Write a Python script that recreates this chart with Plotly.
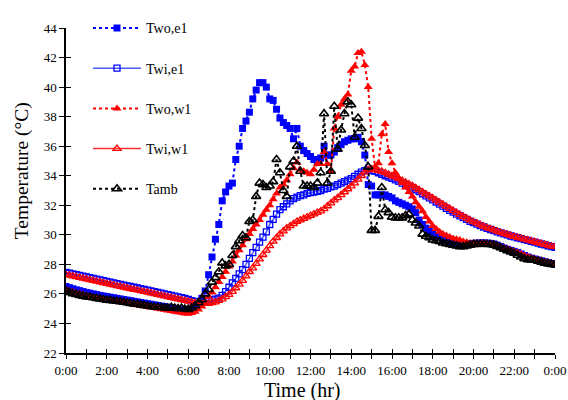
import plotly.graph_objects as go

# time axis: samples every 10 minutes over 24 h
minutes = list(range(0, 24 * 60 + 1, 10))
hours = [m / 60 for m in minutes]

x_tick_values = list(range(0, 25))
x_tick_labels = ["0:00", "", "2:00", "", "4:00", "", "6:00", "", "8:00", "", "10:00", "",
                 "12:00", "", "14:00", "", "16:00", "", "18:00", "", "20:00", "", "22:00", "", "0:00"]
y_tick_values = list(range(22, 45, 2))
x_title = "Time (hr)"
y_title = "Temperature (°C)"

two_e1 = [
    26.50, 26.42, 26.35, 26.28, 26.22, 26.16,
    26.10, 26.05, 26.00, 25.95, 25.90, 25.86,
    25.82, 25.78, 25.74, 25.70, 25.66, 25.62,
    25.58, 25.54, 25.50, 25.46, 25.42, 25.38,
    25.34, 25.30, 25.26, 25.22, 25.18, 25.14,
    25.10, 25.06, 25.02, 24.98, 24.94, 24.90,
    24.88, 24.95, 25.10, 25.35, 25.70, 26.20,
    27.30, 28.50, 29.70, 30.70, 32.30, 32.90,
    33.30, 33.50, 35.10, 36.00, 37.20, 37.70,
    38.30, 39.20, 39.80, 40.30, 40.30, 40.00,
    39.20, 39.10, 38.50, 37.90, 37.60, 37.40,
    37.20, 36.50, 37.20, 36.00, 35.70, 35.50,
    35.30, 35.10, 35.00, 35.20, 36.00, 35.40,
    35.40, 35.60, 35.90, 36.10, 36.30, 36.40,
    36.50, 36.50, 36.60, 36.30, 35.40, 33.40,
    33.30, 32.70, 32.70, 32.70, 32.70, 32.60,
    32.50, 32.30, 32.20, 32.10, 32.00, 31.90,
    31.75, 31.50, 31.00, 30.70, 30.45, 30.25,
    30.05, 29.90, 29.80, 29.70, 29.60, 29.50,
    29.45, 29.40, 29.35, 29.35, 29.38, 29.40,
    29.42, 29.44, 29.45, 29.45, 29.44, 29.42,
    29.38, 29.30, 29.20, 29.10, 29.02, 28.95,
    28.88, 28.80, 28.70, 28.60, 28.50, 28.42,
    28.36, 28.30, 28.24, 28.18, 28.12, 28.06,
    28.00,
]

twi_e1 = [
    27.45, 27.40, 27.35, 27.30, 27.25, 27.20,
    27.15, 27.10, 27.05, 27.00, 26.95, 26.90,
    26.85, 26.80, 26.75, 26.70, 26.65, 26.60,
    26.55, 26.50, 26.45, 26.40, 26.35, 26.30,
    26.25, 26.20, 26.15, 26.10, 26.05, 26.00,
    25.95, 25.90, 25.85, 25.80, 25.75, 25.70,
    25.62, 25.55, 25.50, 25.48, 25.48, 25.50,
    25.55, 25.60, 25.65, 25.72, 25.90, 26.15,
    26.45, 26.75, 27.05, 27.35, 27.65, 28.00,
    28.40, 28.80, 29.15, 29.50, 29.85, 30.20,
    30.70, 31.05, 31.40, 31.70, 31.90, 32.10,
    32.30, 32.45, 32.55, 32.65, 32.70, 32.80,
    32.85, 32.90, 32.95, 33.00, 33.10, 33.15,
    33.25, 33.30, 33.40, 33.50, 33.60, 33.70,
    33.80, 33.95, 34.10, 34.25, 34.35, 34.40,
    34.35, 34.30, 34.20, 34.10, 34.00, 33.90,
    33.82, 33.72, 33.62, 33.50, 33.40, 33.30,
    33.18, 33.05, 32.92, 32.78, 32.64, 32.50,
    32.36, 32.22, 32.08, 31.94, 31.80, 31.66,
    31.53, 31.40, 31.28, 31.16, 31.04, 30.92,
    30.82, 30.72, 30.62, 30.53, 30.44, 30.36,
    30.28, 30.20, 30.13, 30.06, 29.99, 29.92,
    29.86, 29.80, 29.74, 29.68, 29.62, 29.56,
    29.50, 29.44, 29.38, 29.32, 29.26, 29.20,
    29.15,
]

two_w1 = [
    26.30, 26.22, 26.15, 26.08, 26.02, 25.96,
    25.90, 25.85, 25.80, 25.75, 25.70, 25.65,
    25.60, 25.56, 25.52, 25.48, 25.44, 25.40,
    25.36, 25.32, 25.28, 25.24, 25.20, 25.16,
    25.12, 25.08, 25.04, 25.00, 24.96, 24.92,
    24.88, 24.84, 24.80, 24.76, 24.72, 24.68,
    24.66, 24.70, 24.80, 24.95, 25.15, 25.45,
    25.80, 26.10, 26.45, 26.80, 27.15, 27.50,
    27.85, 28.20, 28.60, 28.95, 29.30, 29.70,
    30.05, 30.40, 30.70, 31.00, 31.35, 31.70,
    32.00, 32.40, 32.80, 33.20, 33.40, 33.70,
    34.10, 34.50, 34.90, 34.40, 34.30, 34.20,
    34.10, 34.40, 34.80, 34.80, 35.60, 34.80,
    34.30, 37.20, 38.00, 38.80, 39.20, 39.50,
    41.10, 41.40, 42.30, 42.40, 41.50, 40.00,
    36.50, 34.60, 34.85, 36.80, 37.50, 35.60,
    34.85, 34.20, 33.80, 33.50, 33.20, 32.90,
    32.60, 32.20, 31.90, 31.60, 31.20, 30.90,
    30.60, 30.40, 30.20, 30.05, 29.95, 29.85,
    29.75, 29.70, 29.65, 29.55, 29.50, 29.45,
    29.45, 29.45, 29.45, 29.44, 29.43, 29.42,
    29.38, 29.30, 29.20, 29.12, 29.04, 28.96,
    28.88, 28.80, 28.70, 28.60, 28.52, 28.44,
    28.38, 28.32, 28.26, 28.20, 28.14, 28.08,
    28.02,
]

twi_w1 = [
    27.30, 27.25, 27.20, 27.15, 27.10, 27.05,
    27.00, 26.95, 26.90, 26.85, 26.80, 26.75,
    26.70, 26.65, 26.60, 26.55, 26.50, 26.45,
    26.40, 26.35, 26.30, 26.25, 26.20, 26.15,
    26.10, 26.05, 26.00, 25.95, 25.90, 25.85,
    25.80, 25.75, 25.70, 25.65, 25.60, 25.55,
    25.50, 25.45, 25.40, 25.37, 25.35, 25.35,
    25.35, 25.40, 25.45, 25.55, 25.65, 25.80,
    25.95, 26.15, 26.40, 26.65, 26.90, 27.20,
    27.50, 27.75, 28.05, 28.35, 28.65, 28.95,
    29.25, 29.55, 29.80, 30.05, 30.25, 30.45,
    30.60, 30.75, 30.90, 31.00, 31.10, 31.20,
    31.30, 31.40, 31.50, 31.60, 31.75, 31.95,
    32.15, 32.35, 32.50, 32.70, 32.90, 33.10,
    33.30, 33.50, 33.75, 34.00, 34.25, 34.40,
    34.45, 34.40, 34.35, 34.30, 34.20, 34.10,
    34.00, 33.90, 33.80, 33.68, 33.56, 33.44,
    33.32, 33.18, 33.04, 32.90, 32.76, 32.62,
    32.48, 32.34, 32.20, 32.06, 31.92, 31.78,
    31.64, 31.50, 31.37, 31.24, 31.11, 30.99,
    30.88, 30.77, 30.67, 30.57, 30.48, 30.40,
    30.32, 30.24, 30.16, 30.09, 30.02, 29.95,
    29.88, 29.82, 29.76, 29.70, 29.64, 29.58,
    29.52, 29.46, 29.40, 29.34, 29.28, 29.22,
    29.18,
]

tamb = [
    26.20, 26.10, 26.02, 25.96, 25.90, 25.85,
    25.80, 25.78, 25.74, 25.70, 25.66, 25.62,
    25.58, 25.56, 25.52, 25.50, 25.47, 25.44,
    25.40, 25.36, 25.32, 25.30, 25.26, 25.22,
    25.18, 25.15, 25.12, 25.10, 25.08, 25.06,
    25.04, 25.10, 25.05, 25.00, 25.05, 24.98,
    24.95, 25.05, 25.20, 25.40, 25.60, 26.00,
    26.30, 26.80, 27.10, 27.50, 28.10, 27.90,
    28.00, 28.60, 29.20, 29.60, 29.95, 29.80,
    30.90, 31.00, 32.60, 33.50, 33.40, 33.20,
    33.30, 33.60, 35.10, 34.20, 33.00, 32.60,
    34.60, 35.00, 36.00, 34.30, 33.30, 33.30,
    33.30, 33.20, 33.50, 34.20, 38.20, 33.50,
    34.30, 38.70, 35.80, 37.10, 38.20, 39.00,
    38.80, 36.60, 37.90, 37.20, 36.05, 34.60,
    30.30, 30.30, 31.25, 33.20, 31.70, 31.50,
    31.20, 31.15, 31.15, 31.15, 31.30, 31.40,
    31.00, 30.80, 30.60, 30.05, 29.90, 29.80,
    29.65, 29.60, 29.55, 29.45, 29.40, 29.35,
    29.30, 29.25, 29.20, 29.20, 29.25, 29.30,
    29.35, 29.35, 29.36, 29.36, 29.35, 29.34,
    29.30, 29.22, 29.12, 29.02, 28.92, 28.84,
    28.75, 28.62, 28.50, 28.38, 28.32, 28.30,
    28.28, 28.22, 28.15, 28.08, 28.03, 28.00,
    27.96,
]

FONT = "Liberation Serif, Times New Roman, serif"

series = [
    ("Two,e1", two_e1, dict(color="#0000FF", width=2, dash="3px,3px"),
     dict(symbol="square", size=7, color="#0000FF", line=dict(width=0))),
    ("Twi,e1", twi_e1, dict(color="#4D5CFF", width=1.5, dash="solid"),
     dict(symbol="square-open", size=6, color="#0000FF", line=dict(width=1.3))),
    ("Two,w1", two_w1, dict(color="#FF0000", width=2, dash="3px,3px"),
     dict(symbol="triangle-up", size=8, color="#FF0000", line=dict(width=0))),
    ("Twi,w1", twi_w1, dict(color="#FF3030", width=1.5, dash="solid"),
     dict(symbol="triangle-up-open", size=7, color="#FF0000", line=dict(width=1.3))),
    ("Tamb", tamb, dict(color="#000000", width=2, dash="3px,3px"),
     dict(symbol="triangle-up-open", size=8, color="#000000", line=dict(width=1.6))),
]

fig = go.Figure()
for i, (name, vals, line, marker) in enumerate(series):
    fig.add_trace(go.Scatter(x=hours, y=vals, mode="lines+markers", name=name,
                             legendgroup=f"g{i}", line=line, marker=marker))

# dummy trace on the overlay axes so the inward tick marks are drawn
fig.add_trace(go.Scatter(x=[None], y=[None], xaxis="x2", yaxis="y2",
                         showlegend=False, hoverinfo="skip"))

axis_common = dict(showgrid=False, zeroline=False, color="black", automargin=False)

fig.update_layout(
    width=568, height=400,
    margin=dict(l=66, r=13, t=17, b=47),
    paper_bgcolor="white", plot_bgcolor="white",
    font=dict(family=FONT, color="black", size=13),
    showlegend=True,
    legend=dict(x=0.045, y=1.048, xanchor="left", yanchor="top",
                bgcolor="rgba(0,0,0,0)", font=dict(family=FONT, size=14),
                tracegroupgap=19, itemwidth=48),
    xaxis=dict(range=[0, 24], tickmode="array", tickvals=x_tick_values,
               ticktext=x_tick_labels, ticks="outside", ticklen=4, tickwidth=1.3,
               tickcolor="black", showline=True, linecolor="black", linewidth=1.5,
               tickfont=dict(family=FONT, size=13), ticklabelstandoff=1,
               **axis_common),
    yaxis=dict(range=[22, 44], tickmode="array", tickvals=y_tick_values,
               ticks="outside", ticklen=5, tickwidth=1.3, tickcolor="black",
               showline=True, linecolor="black", linewidth=1.5,
               tickfont=dict(family=FONT, size=13),
               **axis_common),
    xaxis2=dict(range=[0, 24], overlaying="x", anchor="y2", side="bottom",
                tickmode="array", tickvals=x_tick_values, ticks="inside", ticklen=4,
                tickwidth=1.3, tickcolor="black", showticklabels=False, showline=False,
                **axis_common),
    yaxis2=dict(range=[22, 44], overlaying="y", anchor="x2", side="left",
                tickmode="array", tickvals=y_tick_values, ticks="inside", ticklen=5,
                tickwidth=1.3, tickcolor="black", showticklabels=False, showline=False,
                **axis_common),
    annotations=[
        dict(text=x_title, xref="paper", yref="paper", x=0.4826, y=-0.115,
             xanchor="center", yanchor="middle", showarrow=False, borderpad=0,
             font=dict(family=FONT, size=20, color="black")),
        dict(text=y_title, xref="paper", yref="paper", x=-0.09, y=0.5625,
             xanchor="center", yanchor="middle", textangle=-90, showarrow=False,
             font=dict(family=FONT, size=19.5, color="black")),
    ],
)

fig.write_html("out.html")
